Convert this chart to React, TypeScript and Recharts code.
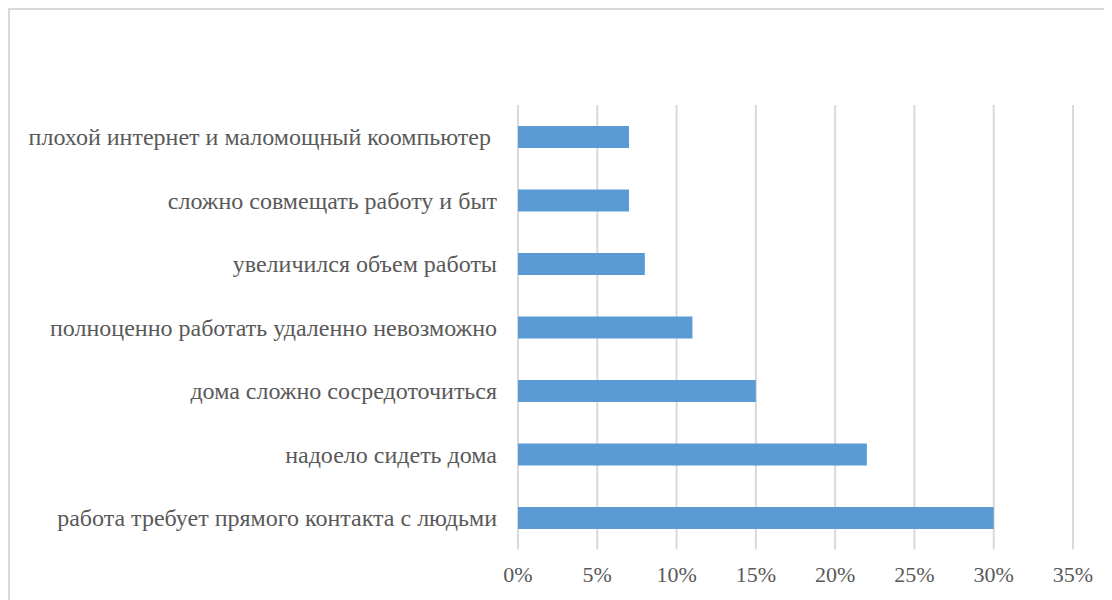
import React from "react";
import { BarChart, Bar, XAxis, YAxis, CartesianGrid } from "recharts";

const categories = [
  "плохой интернет и маломощный коомпьютер ",
  "сложно совмещать работу и быт",
  "увеличился объем работы",
  "полноценно работать удаленно невозможно",
  "дома сложно сосредоточиться",
  "надоело сидеть дома",
  "работа требует прямого контакта с людьми",
];
const values = [7, 7, 8, 11, 15, 22, 30];
const xTicks = [0, 5, 10, 15, 20, 25, 30, 35];

const data = categories.map((name, i) => ({ name, value: values[i] }));

const FONT = '"Liberation Serif", "Times New Roman", serif';
const TEXT = "#595959";

const YTick = (props: any) => {
  const { x, y, payload } = props;
  return (
    <text
      x={x}
      y={y}
      dy="0.355em"
      textAnchor="end"
      fill={TEXT}
      fontSize={24}
      style={{ whiteSpace: "pre", fontFamily: FONT }}
    >
      {payload.value}
    </text>
  );
};

const XTick = (props: any) => {
  const { x, y, payload } = props;
  return (
    <text
      x={x}
      y={y}
      dy="0.71em"
      textAnchor="middle"
      fill={TEXT}
      fontSize={22}
      style={{ fontFamily: FONT }}
    >
      {`${payload.value}%`}
    </text>
  );
};

export default function App() {
  return (
    <div
      style={{
        width: 1104,
        height: 592,
        borderLeft: "2px solid #d9d9d9",
        borderTop: "2px solid #d9d9d9",
        boxSizing: "border-box",
        background: "#fff",
        overflow: "hidden",
        fontFamily: FONT,
      }}
    >
      <BarChart
        width={1102}
        height={590}
        data={data}
        layout="vertical"
        margin={{ top: 95, right: 39, bottom: 20, left: 0 }}
        style={{ fontFamily: FONT }}
      >
        <CartesianGrid horizontal={false} stroke="#d9d9d9" strokeWidth={2} />
        <XAxis
          type="number"
          domain={[0, 35]}
          ticks={xTicks}
          axisLine={false}
          tickLine={false}
          tickSize={0}
          tickMargin={17}
          height={30.5}
          interval={0}
          tick={<XTick />}
        />
        <YAxis
          type="category"
          dataKey="name"
          width={508}
          axisLine={false}
          tickLine={false}
          tickSize={0}
          tickMargin={21}
          interval={0}
          tick={<YTick />}
        />
        <Bar dataKey="value" fill="#5b9bd5" barSize={22} isAnimationActive={false} />
      </BarChart>
    </div>
  );
}
